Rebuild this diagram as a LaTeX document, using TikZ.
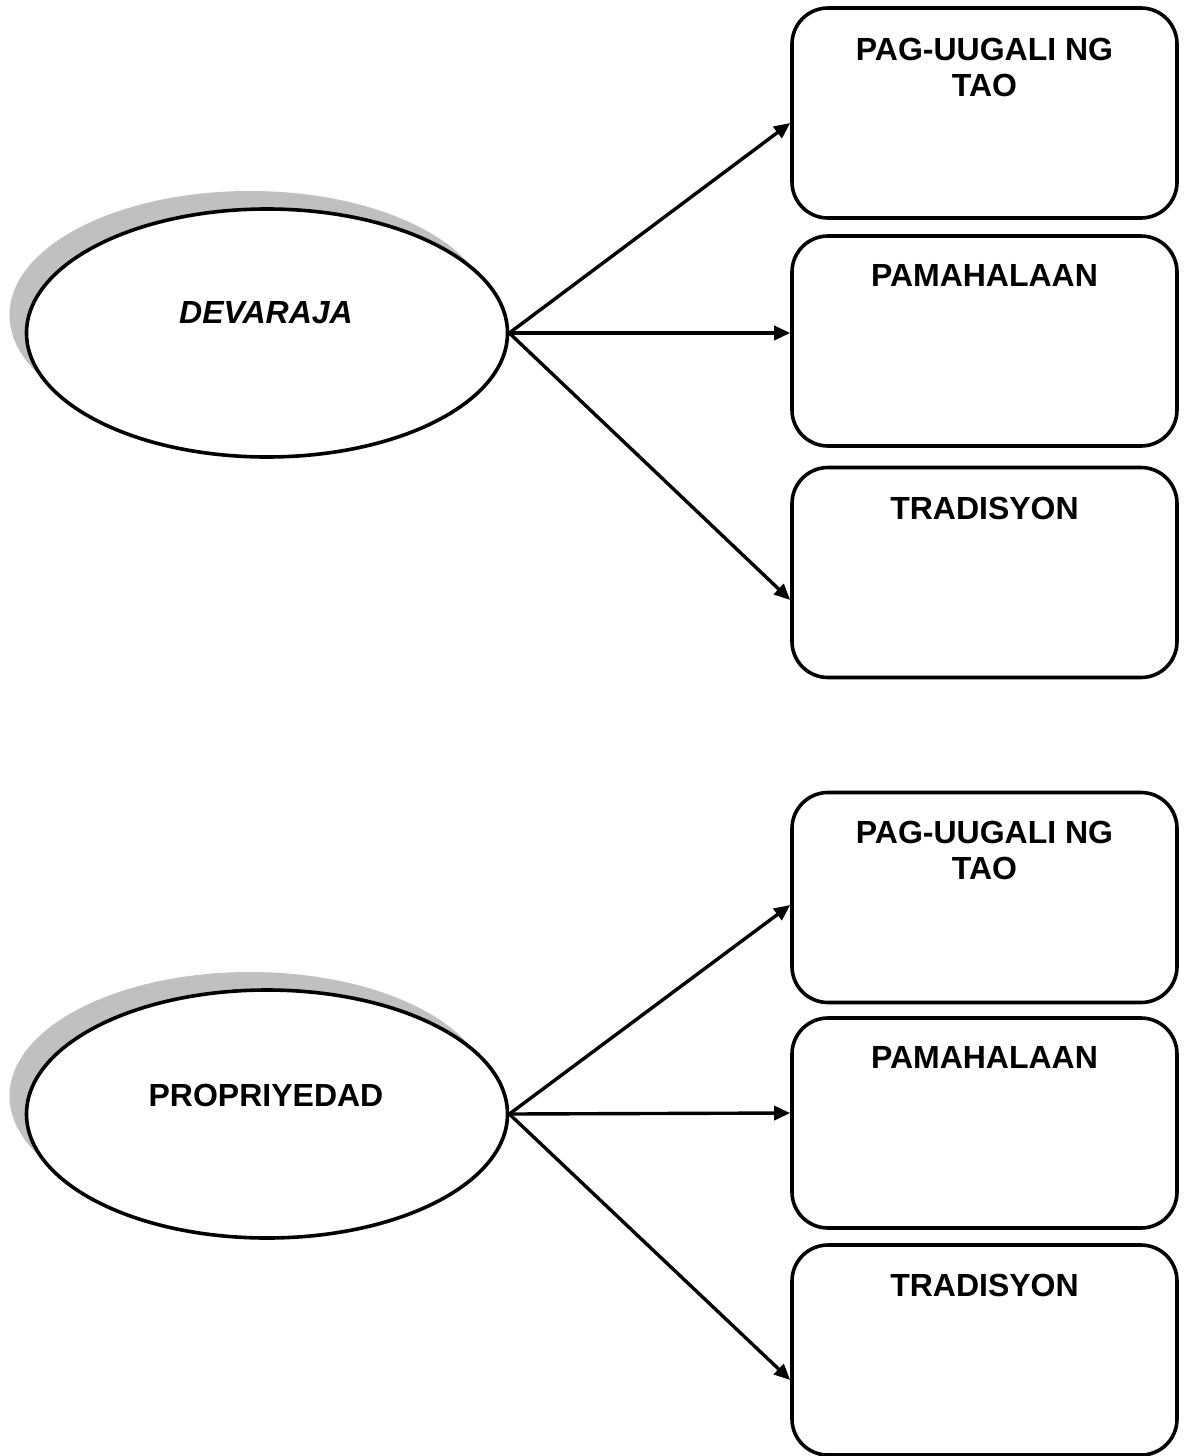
\documentclass[tikz,border=0pt]{standalone}
\usepackage{fontspec}
\setmainfont{Liberation Sans}
\usetikzlibrary{shapes.geometric,arrows.meta,calc}
\begin{document}
\begin{tikzpicture}[x=1pt,y=-1pt,
  oval/.style={ellipse,draw,line width=3.6pt,fill=white,minimum width=481pt,minimum height=248pt,inner sep=0pt},
  shadowoval/.style={ellipse,fill=shadowgray,minimum width=481pt,minimum height=248pt,inner sep=0pt},
  ovaltext/.style={font=\fontsize{32}{36}\selectfont\bfseries,inner sep=0pt},
  box/.style={draw,line width=3.6pt,rounded corners=36pt,minimum width=385pt,minimum height=210pt,inner sep=0pt},
  boxtext/.style={font=\fontsize{32}{36}\selectfont\bfseries,align=center,inner sep=0pt,anchor=north},
  conn/.style={line width=3.4pt,-{Triangle[length=16pt,width=14pt]}}
]
\definecolor{shadowgray}{HTML}{C0C0C0}
\useasboundingbox (0,0) rectangle (1184,1456);

% ---------- upper group ----------
\node[shadowoval] (s1) at (250,315) {};
\node[oval] (e1) at (267,333) {};
\node[ovaltext] (t1) at (266,313) {\itshape DEVARAJA};

\node[box] (a1) at (984.5,113) {};
\node[box] (a2) at (984.5,341) {};
\node[box] (a3) at (984.5,572.5) {};
\node[boxtext] (la1) at ($(a1.north)+(0,32)$) {PAG-UUGALI NG\\TAO};
\node[boxtext] (la2) at ($(a2.north)+(0,30)$) {PAMAHALAAN};
\node[boxtext] (la3) at ($(a3.north)+(0,31)$) {TRADISYON};

\draw[conn] (e1.east) -- ($(a1.west)+(0,10)$);
\draw[conn] (e1.east) -- ($(a2.west)+(0,-8)$);
\draw[conn] (e1.east) -- ($(a3.west)+(0,27.5)$);

% ---------- lower group ----------
\node[shadowoval] (s2) at (250,1096) {};
\node[oval] (e2) at (267,1114) {};
\node[ovaltext] (t2) at (266,1095) {PROPRIYEDAD};

\node[box] (b1) at (984.5,897.5) {};
\node[box] (b2) at (984.5,1123) {};
\node[box] (b3) at (984.5,1350) {};
\node[boxtext] (lb1) at ($(b1.north)+(0,30)$) {PAG-UUGALI NG\\TAO};
\node[boxtext] (lb2) at ($(b2.north)+(0,30)$) {PAMAHALAAN};
\node[boxtext] (lb3) at ($(b3.north)+(0,31)$) {TRADISYON};

\draw[conn] (e2.east) -- ($(b1.west)+(0,7.5)$);
\draw[conn] (e2.east) -- ($(b2.west)+(0,-10)$);
\draw[conn] (e2.east) -- ($(b3.west)+(0,30)$);
\end{tikzpicture}
\end{document}
